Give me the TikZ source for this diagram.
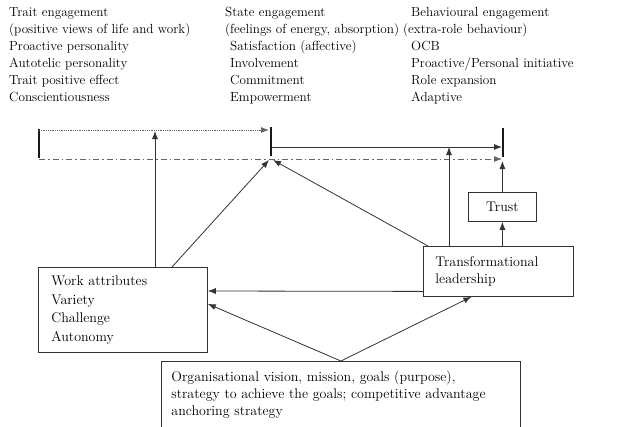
\documentclass[tikz,border=0pt]{standalone}
\usepackage{fontspec}
\usetikzlibrary{arrows.meta}

\tikzset{
  col/.style={inner sep=0pt, anchor=north west, font=\fontsize{13.2}{17}\selectfont},
  box/.style={draw=black!80, line width=0.8pt, anchor=north west, align=left,
    inner ysep=0pt, font=\fontsize{14}{17}\selectfont},
  bar/.style={line width=2.6pt, black!90},
  link/.style={draw=black!80, line width=0.8pt, -{Latex[length=8pt,width=6pt]}},
}

\begin{document}
\begin{tikzpicture}[x=1pt,y=-1pt]
\useasboundingbox (0,0) rectangle (634,426);
\clip (0,0) rectangle (634,426);

\node (trait) [col] at (9,4) {
\begin{tabular}{@{}l@{}}
  Trait engagement \\
  (positive views of life and work) \\
  Proactive personality \\
  Autotelic personality \\
  Trait positive effect \\
  Conscientiousness \\
\end{tabular}
};
\node (state) [col] at (225,4) {
\begin{tabular}{@{}l@{}}
  State engagement \\
  (feelings of energy, absorption) \\
  \hspace{5pt}Satisfaction (affective) \\
  \hspace{5pt}Involvement \\
  \hspace{5pt}Commitment \\
  \hspace{5pt}Empowerment \\
\end{tabular}
};
\node (behav) [col] at (403,4) {
\begin{tabular}{@{}l@{}}
  \hspace{8pt}Behavioural engagement \\
  (extra-role behaviour) \\
  \hspace{8pt}OCB \\
  \hspace{8pt}Proactive/Personal initiative \\
  \hspace{8pt}Role expansion \\
  \hspace{8pt}Adaptive \\
\end{tabular}
};

\coordinate (traitT) at (39,129);
\coordinate (traitB) at (39,158);
\coordinate (stateT) at (271,127);
\coordinate (stateB) at (271,156);
\coordinate (behavT) at (503,128);
\coordinate (behavB) at (503,157);
\coordinate (stateM) at (271,147);
\coordinate (behavM) at (503,147);
\coordinate (dashL) at (39,159);
\coordinate (dashR) at (502,159);

\draw [bar] (traitT) -- (traitB);
\draw [bar] (stateT) -- (stateB);
\draw [bar] (behavT) -- (behavB);

\node (work) [box, text width=143pt, inner xsep=13pt, minimum height=85pt,
  font=\fontsize{14}{18.5}\selectfont] at (38,267) {
  Work attributes\\ Variety\\ Challenge\\ Autonomy};
\node (lead) [box, text width=126pt, inner xsep=12pt, minimum height=50pt] at (423,246) {
  Transformational\\ leadership};
\node (trust) [box, align=center, inner xsep=0pt, minimum width=68pt, minimum height=29pt] at (468,192) {Trust};
\node (org) [box, text width=339pt, inner xsep=10pt, minimum height=67pt] at (161,361) {
  Organisational vision, mission, goals (purpose),\\
  strategy to achieve the goals;\ competitive advantage\\
  anchoring strategy};

\draw [link, densely dotted, black!60] (traitT |- 0,130) -- ([xshift=-2pt]stateT |- 0,130);
\draw [link, black!60, dash pattern=on 6pt off 3pt on 1.5pt off 3pt] (dashL) -- (dashR);
\draw [link] (stateM) -- ([xshift=-1pt]behavM);

\draw [link] ([xshift=117pt]work.north west) -- ([xshift=117pt]work.north west |- 0,131);
\draw [link] ([xshift=134pt]work.north west) -- ([xshift=-2pt]stateB |- 0,160);
\draw [link] ([xshift=5pt]lead.north west) -- ([xshift=2pt]stateB |- 0,160);
\draw [link] ([xshift=26pt]lead.north west) -- ([xshift=26pt]lead.north west |- stateM);
\draw [link] (trust.south |- lead.north) -- (trust.south);
\draw [link] (trust.north) -- (trust.north |- 0,161);
\draw [link] ([yshift=-20pt]lead.west) -- (work.east |- 0,291);
\draw [link] (org.north) -- ([yshift=6pt]work.east);
\draw [link] (org.north) -- ([xshift=-27pt]lead.south);
\end{tikzpicture}
\end{document}
